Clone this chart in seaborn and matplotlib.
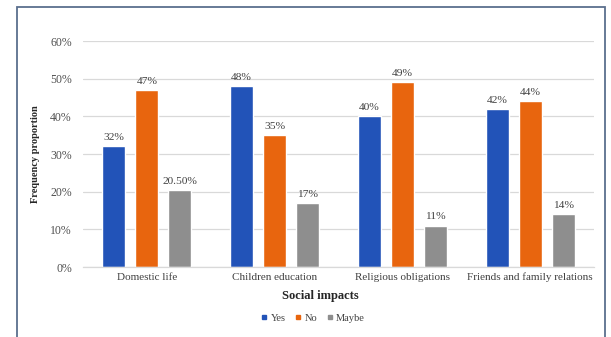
import matplotlib
matplotlib.use("Agg")
import matplotlib.pyplot as plt
import seaborn as sns
import pandas as pd
from matplotlib.patches import Rectangle
from matplotlib.lines import Line2D

categories = ["Domestic life", "Children education", "Religious obligations", "Friends and family relations"]
series = ["Yes", "No", "Maybe"]
yes_vals = [32, 48, 40, 42]
no_vals = [47, 35, 49, 44]
maybe_vals = [20.5, 17, 11, 14]
colors = ["#2253B8", "#E8650E", "#8E8E8E"]

rows = []
for s, vals in zip(series, [yes_vals, no_vals, maybe_vals]):
    for c, v in zip(categories, vals):
        rows.append({"category": c, "series": s, "value": v})
df = pd.DataFrame(rows)

sns.set_theme(style="white")
plt.rcParams["font.family"] = ["Liberation Serif", "DejaVu Serif"]

fig = plt.figure(figsize=(6.11, 3.37), dpi=100)
ax = fig.add_axes([83/611, 1-267/337, (594-83)/611, (267-41)/337])

sns.barplot(data=df, x="category", y="value", hue="series", order=categories,
            hue_order=series, palette=colors, width=0.775, gap=0.3,
            ax=ax, legend=False, saturation=1, errorbar=None)

ax.set_ylim(0, 60)
ax.set_yticks(range(0, 61, 10))
ax.set_yticklabels([f"{t}%" for t in range(0, 61, 10)], fontsize=8.5, color="#505050")
ax.tick_params(axis="x", labelsize=8, colors="#404040", length=0, pad=4)
ax.tick_params(axis="y", length=0, pad=8)
ax.yaxis.grid(True, color="#D9D9D9", lw=0.9)
ax.set_axisbelow(True)
for sp in ["top", "right", "left"]:
    ax.spines[sp].set_visible(False)
ax.spines["bottom"].set_color("#D9D9D9")
ax.spines["bottom"].set_linewidth(0.9)
ax.set_xlabel("")
ax.set_ylabel("")

for cont in ax.containers:
    labels = [f"{v:.2f}%" if v != int(v) else f"{v:.0f}%" for v in cont.datavalues]
    ax.bar_label(cont, labels=labels, padding=3, fontsize=8.2, color="#404040")

fig.text(35/611, 1-154/337, "Frequency proportion", rotation=90, ha="center", va="center",
         fontsize=7.5, fontweight="bold", color="#262626")
fig.text(320/611, 1-296/337, "Social impacts", ha="center", va="center",
         fontsize=9, fontweight="bold", color="#262626")

handles = [Line2D([], [], marker="s", ls="", color=c, markersize=3.5) for c in colors]
fig.legend(handles, series, loc="center", bbox_to_anchor=(313/611, 1-318/337), ncol=3,
           frameon=False, fontsize=7.5, handlelength=0.6, handletextpad=0.3,
           columnspacing=0.9, labelcolor="#404040")

fig.patches.append(Rectangle((17/611, -0.05), (605-17)/611, 1.05-7/337, transform=fig.transFigure,
                             fill=False, edgecolor="#5B6F8E", lw=1.3))

fig.savefig("out.png", dpi=100)
